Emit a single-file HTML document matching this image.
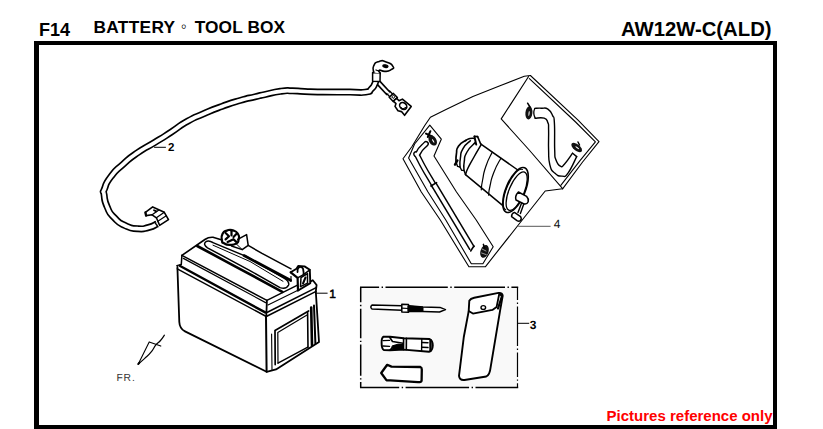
<!DOCTYPE html>
<html><head><meta charset="utf-8"><title>F14 BATTERY TOOL BOX</title>
<style>
html,body{margin:0;padding:0;background:#fff;}
body{width:823px;height:429px;position:relative;overflow:hidden;font-family:"Liberation Sans",sans-serif;color:#000;}
.t{position:absolute;white-space:nowrap;font-weight:bold;line-height:1;}
#frame{position:absolute;left:34px;top:41px;width:734px;height:380px;border-style:solid;border-color:#000;border-width:4px 4px 6px 5px;}
#f14{left:39px;top:20.6px;font-size:18px;}
#ttl{left:93.6px;top:18.7px;font-size:17.3px;letter-spacing:0.3px;}
#ttl i{display:inline-block;width:19.3px;text-align:center;font-style:normal;font-size:17px;letter-spacing:0;position:relative;left:-1.2px;top:-0.5px}
#ttl b{letter-spacing:0.12px}
#mdl{left:621px;top:18.6px;font-size:20.3px;}
#ref{left:606.6px;top:408.2px;font-size:15px;color:#f00;}
svg{position:absolute;left:0;top:0;font-family:"Liberation Sans",sans-serif;}
svg text{text-rendering:geometricPrecision;}
</style></head><body>
<div id="frame"></div>
<div class="t" id="f14">F14</div>
<div class="t" id="ttl">BATTERY<i>&#9702;</i><b>TOOL BOX</b></div>
<div class="t" id="mdl">AW12W-C(ALD)</div>
<div class="t" id="ref">Pictures reference only</div>
<svg width="823" height="429" viewBox="0 0 823 429" fill="none" stroke="#000" stroke-width="1.2" stroke-linecap="round" stroke-linejoin="round">
<path d="M378.3 82.5 L388.6 93.6" stroke-width="5.6" stroke-linecap="butt"/>
<path d="M378.3 82.5 L388.6 93.6" stroke="#fff" stroke-width="2.4" stroke-linecap="butt"/>
<path d="M386.6 93.6 L391.0 98.0" stroke-width="1.4"/>
<path d="M389.6 91.0 L394.0 95.6" stroke-width="1.4"/>
<path d="M389.2 97.2 L393.4 93.4 L397.4 97.6 L393.2 101.6 Z" stroke-width="1.5" fill="#fff"/>
<path d="M392.0 96.6 L393.6 95.2 L395.0 96.8 L393.4 98.2 Z" stroke-width="1.0"/>
<path d="M393.4 101.2 L396.6 98.2 L399.0 100.8 L402.4 99.1 L411.2 106.4 L404.6 115.3 L401.5 111.6 L398.0 110.8 L395.0 106.4 L396.0 103.6 Z" stroke-width="1.6" fill="#fff"/>
<ellipse cx="403.2" cy="106" rx="3.9" ry="3.1" stroke-width="1.6" transform="rotate(40 403.2 106)"/>
<path d="M401.0 107.6 C401.7 108.0 401.5 108.9 403.0 108.8 C404.5 108.7 404.7 107.9 405.6 107.4" stroke-width="1.1"/>
<path d="M157.0 223.9 C154.2 225.1 155.0 225.9 148.5 227.5 C142.0 229.1 145.2 229.3 137.5 228.7 C129.8 228.1 133.1 229.3 125.4 225.7 C117.7 222.1 120.5 224.1 114.4 217.8 C108.3 211.5 110.6 214.6 107.2 206.9 C103.8 199.2 105.0 200.8 104.1 194.7 C103.2 188.6 102.3 194.7 104.6 188.6 C106.9 182.5 104.9 184.6 111.0 176.5 C117.1 168.4 114.0 172.3 123.0 164.3 C132.0 156.3 127.4 159.7 138.1 152.4 C148.8 145.1 144.0 149.0 155.0 142.3 C166.0 135.6 160.1 139.3 171.0 132.2 C181.9 125.1 176.9 127.2 187.8 121.1 C198.7 115.0 192.3 118.7 203.6 113.8 C214.9 108.9 209.7 110.9 221.8 106.5 C233.9 102.1 228.9 103.7 240.0 100.5 C251.1 97.3 246.8 98.8 255.0 96.8 C263.2 94.8 256.1 96.4 264.6 94.6 C273.1 92.8 271.1 92.6 280.4 91.3 C289.7 90.0 284.4 90.7 292.5 90.8 C300.6 90.9 294.6 91.1 304.7 91.5 C314.8 91.9 307.8 91.8 322.9 92.0 C338.0 92.2 335.8 92.1 350.0 92.1 C364.2 92.1 358.4 93.2 365.5 92.1 C372.6 91.0 368.3 91.5 371.4 88.8 C374.5 86.1 373.3 86.8 374.8 83.9 C376.3 81.0 375.6 81.3 376.0 80.0" stroke-width="7.0" stroke-linecap="butt"/>
<path d="M157.0 223.9 C154.2 225.1 155.0 225.9 148.5 227.5 C142.0 229.1 145.2 229.3 137.5 228.7 C129.8 228.1 133.1 229.3 125.4 225.7 C117.7 222.1 120.5 224.1 114.4 217.8 C108.3 211.5 110.6 214.6 107.2 206.9 C103.8 199.2 105.0 200.8 104.1 194.7 C103.2 188.6 102.3 194.7 104.6 188.6 C106.9 182.5 104.9 184.6 111.0 176.5 C117.1 168.4 114.0 172.3 123.0 164.3 C132.0 156.3 127.4 159.7 138.1 152.4 C148.8 145.1 144.0 149.0 155.0 142.3 C166.0 135.6 160.1 139.3 171.0 132.2 C181.9 125.1 176.9 127.2 187.8 121.1 C198.7 115.0 192.3 118.7 203.6 113.8 C214.9 108.9 209.7 110.9 221.8 106.5 C233.9 102.1 228.9 103.7 240.0 100.5 C251.1 97.3 246.8 98.8 255.0 96.8 C263.2 94.8 256.1 96.4 264.6 94.6 C273.1 92.8 271.1 92.6 280.4 91.3 C289.7 90.0 284.4 90.7 292.5 90.8 C300.6 90.9 294.6 91.1 304.7 91.5 C314.8 91.9 307.8 91.8 322.9 92.0 C338.0 92.2 335.8 92.1 350.0 92.1 C364.2 92.1 358.4 93.2 365.5 92.1 C372.6 91.0 368.3 91.5 371.4 88.8 C374.5 86.1 373.3 86.8 374.8 83.9 C376.3 81.0 375.6 81.3 376.0 80.0" stroke="#fff" stroke-width="3.7" stroke-linecap="butt"/>
<path d="M372.6 72.6 L380.2 73.0 L380.0 81.6 L372.6 81.3 Z" stroke-width="1.5" fill="#fff"/>
<path d="M373.8 72.4 C373.7 70.3 371.8 69.7 373.6 66.0 C375.4 62.3 375.0 62.8 379.2 61.4 C383.4 60.0 381.5 60.3 386.1 61.9 C390.7 63.5 391.3 63.7 392.9 66.3 C394.5 68.9 393.6 68.0 391.0 69.7 C388.4 71.4 389.0 71.2 385.1 71.4 C381.2 71.6 381.0 69.5 379.4 70.2 C377.8 70.9 379.9 72.4 380.2 73.5" stroke-width="1.6" fill="#fff"/>
<ellipse cx="385.4" cy="66.2" rx="2.6" ry="1.3" fill="#000" transform="rotate(12 385.4 66.2)"/>
<path d="M376.0 70.0 L378.6 71.0" stroke-width="1.3"/>
<path d="M145.4 212.3 L152.7 206.9 L164.3 212.3 L168.5 219.6 L159.6 225.3 L156.4 217.8 L152.1 214.8 L146.0 215.6 Z" stroke-width="1.6" fill="#fff"/>
<path d="M152.1 214.8 L158.5 210.2" stroke-width="1.3"/>
<path d="M156.4 217.8 L164.3 212.3" stroke-width="1.3"/>
<path d="M157.8 221.2 L166.3 215.8" stroke-width="1.2"/>
<path d="M145.4 212.3 L146.0 215.6" stroke-width="2.2"/>
<path d="M154.0 210.2 L156.3 211.4" stroke-width="1.8"/>
<path d="M154.6 222.2 L158.0 226.8" stroke-width="1.4"/>
<path d="M154.5 147.3 L165.5 147.3" stroke-width="1"/>
<text transform="translate(168 151) scale(0.25)" font-size="46.0" font-weight="bold" fill="#000" stroke="none">2</text>
<path d="M177.4 267 L179.3 322 Q179.6 328.6 185 331.4 L266.6 371.8 L276 369.4 L319 342 L315.8 291.4" stroke-width="1.8"/>
<path d="M266.0 316.5 L266.6 371.8" stroke-width="2.0"/>
<path d="M181.9 255.4 L204.9 239.5 Q208.5 237 213 237.3 L222 240" stroke-width="1.6"/>
<path d="M181.9 255.4 L266.9 300.4 L297.0 285.3" stroke-width="1.5"/>
<path d="M183.4 258.4 L265.6 302.6" stroke-width="1.2"/>
<path d="M181.9 255.4 L181.3 264.4" stroke-width="1.5"/>
<path d="M266.9 300.4 L266.3 316.5" stroke-width="1.8"/>
<path d="M176.9 265.6 L181.3 264.4" stroke-width="1.5"/>
<path d="M179.7 265.8 L265.2 312.4" stroke-width="2.4"/>
<path d="M177.3 268.8 L266.3 316.5 L315.6 291.6" stroke-width="1.5"/>
<path d="M267.4 312.2 L316.2 287.6" stroke-width="1.6"/>
<path d="M268.0 305.0 L300.0 289.3" stroke-width="1.1"/>
<path d="M310.6 281.6 L312.8 280.3 L316.6 285.0 L315.8 291.4" stroke-width="1.8"/>
<path d="M248.2 245.4 L262.0 253.4 L291.0 268.8" stroke-width="1.5"/>
<path d="M213 242.6 L246.2 256.4 L284 278.2 Q289.6 281.6 288.6 285 Q286.5 289.6 280 287.6 L248.6 269.8 L207.5 247.8 Q203 244.6 205.5 242 Q208.5 239.6 213 242.6" stroke-width="1.5"/>
<path d="M244.0 255.6 L290.5 280.3" stroke-width="2.8"/>
<path d="M197.2 246.0 L236.0 266.8 L282.3 291.8" stroke-width="2.6"/>
<path d="M213.0 245.2 L250.0 261.5 L283.0 281.3" stroke-width="1.0"/>
<path d="M222.0 240.5 C221.5 237.4 220.8 237.3 222.5 234.0 C224.2 230.7 223.5 231.8 227.0 230.6 C230.5 229.4 229.3 229.3 233.0 230.4 C236.7 231.5 236.1 231.0 238.0 234.0 C239.9 237.0 239.3 236.3 238.6 239.5 C237.9 242.7 239.0 241.8 236.0 243.6 C233.0 245.4 233.5 244.9 229.5 244.8 C225.5 244.7 226.5 244.6 224.0 243.2 C221.5 241.8 222.5 243.6 222.0 240.5 Z" stroke-width="2.2" fill="#fff"/>
<path d="M225.6 233.0 L229.0 236.2 L225.6 239.4" stroke-width="2.2"/>
<path d="M231.5 231.2 L231.5 235.5" stroke-width="2.2"/>
<path d="M236.8 233.6 L233.5 237.0" stroke-width="2.2"/>
<path d="M227.6 242.0 L233.5 239.2 L236.0 241.6" stroke-width="2.2"/>
<path d="M237.8 239.4 L246.6 234.6 L248.2 245.4 L242.2 249.6 L231.5 246.0" stroke-width="1.5"/>
<path d="M236.0 243.6 L242.2 249.6" stroke-width="1.0"/>
<path d="M290.7 272.3 L297.6 277.8 L298.0 290.6" stroke-width="2.2"/>
<path d="M290.7 272.3 L296.5 268.8 L298.2 265.9 L304.5 266.4 L309.8 269.8 L310.3 283.1 L299.0 290.0" stroke-width="1.9"/>
<path d="M297.6 277.8 L303.5 274.6 L309.8 269.8" stroke-width="1.5"/>
<path d="M297.5 272.0 C297.8 270.6 297.0 269.3 298.5 267.8 C300.0 266.3 300.4 266.5 302.0 267.6 C303.6 268.7 302.9 268.7 303.4 271.0 C303.9 273.3 303.5 273.4 303.5 274.6" stroke-width="1.8"/>
<path d="M300.5 286.6 L301.0 277.5 L307.5 273.6 L307.5 283.2 L300.5 286.6" stroke-width="1.5"/>
<path d="M303.0 283.5 L305.5 277.5" stroke-width="2.0"/>
<path d="M291.0 276.5 L291.0 281.5" stroke-width="1.2"/>
<path d="M275.2 364.6 L275.0 330.6 L308.6 310.9" stroke-width="1.7"/>
<path d="M278.0 363.0 L277.8 332.6 L306.6 315.2" stroke-width="1.2"/>
<path d="M278.0 363.2 L307.8 347.2" stroke-width="1.4"/>
<path d="M307.6 312.6 L308.0 347.2" stroke-width="1.6"/>
<path d="M311.2 307.6 L312.0 345.4" stroke-width="2.6"/>
<path d="M314.0 305.6 L315.4 343.6" stroke-width="2.0"/>
<path d="M271.6 334.0 L272.0 369.6" stroke-width="1.1"/>
<path d="M316.0 293.2 L327.2 293.2" stroke-width="1"/>
<text transform="translate(329.2 297.8) scale(0.25)" font-size="48" font-weight="normal" fill="#000" stroke="#000" stroke-width="2.0">1</text>
<rect x="360.7" y="287.3" width="156.8" height="100.1" fill="#f9f9f9" stroke="none"/>
<path d="M360.0 287.3 L379.1 287.3 M381.6 287.3 L383.0 287.3 M385.5 287.3 L447.8 287.3 M450.3 287.3 L451.7 287.3 M454.2 287.3 L505.0 287.3 M507.5 287.3 L508.9 287.3 M511.4 287.3 L518.2 287.3" stroke-width="1.5" stroke-linecap="butt"/>
<path d="M360.0 387.4 L399.2 387.4 M401.7 387.4 L403.1 387.4 M405.6 387.4 L469.1 387.4 M471.6 387.4 L473.0 387.4 M475.5 387.4 L518.2 387.4" stroke-width="1.5" stroke-linecap="butt"/>
<path d="M360.7 287.3 L360.7 302.3 M360.7 304.8 L360.7 306.2 M360.7 308.7 L360.7 338.2 M360.7 340.7 L360.7 342.1 M360.7 344.6 L360.7 375.7 M360.7 378.2 L360.7 379.6 M360.7 382.1 L360.7 387.4" stroke-width="1.5" stroke-linecap="butt"/>
<path d="M517.5 287.3 L517.5 300.0 M517.5 302.5 L517.5 303.9 M517.5 306.4 L517.5 346.0 M517.5 348.5 L517.5 349.9 M517.5 352.4 L517.5 376.9 M517.5 379.4 L517.5 380.8 M517.5 383.3 L517.5 387.4" stroke-width="1.2" stroke-linecap="butt"/>
<path d="M372 305.1 L401.8 305.8 L401.8 310.2 L372 309 Q369.6 307 372 305.1 Z" stroke-width="1.5" fill="#fff"/>
<path d="M401.8 304.3 L408.5 304.6 L408.5 312.2 L401.8 311.9 Z" stroke-width="1.5" fill="#fff"/>
<path d="M401.8 308.2 L408.5 308.5" stroke-width="1.2"/>
<path d="M408.5 305.8 L423 307 L440 307.4 L445.5 309.6 L439.5 312 L423 311.6 L408.5 311.4 Z" stroke-width="1.5" fill="#fff"/>
<path d="M408.5 306 L423 307.2 L423 311.4 L408.5 311.2 Z" stroke-width="1" fill="#000"/>
<path d="M383.6 336.6 Q381.3 338 381.6 343 Q381.6 348.6 383.8 350 L390 350.2 L403.5 349.6 L429 351.8 Q432.6 351 432.8 345.5 Q432.8 340.5 429.6 339 L403.6 338.2 L390 336.8 Z" stroke-width="1.9" fill="#fff"/>
<path d="M403.6 338.2 L403.5 349.6" stroke-width="1.6"/>
<path d="M406.4 338.4 L406.3 349.8" stroke-width="1.6"/>
<path d="M421.8 339.0 L421.6 351.2" stroke-width="1.4"/>
<path d="M383.0 340.6 L389.5 340.4" stroke-width="1.4"/>
<path d="M383.0 346.0 L389.5 346.4" stroke-width="1.4"/>
<path d="M389.5 337.0 L392.5 341.5 L403.0 343.2" stroke-width="1.6"/>
<path d="M390.0 350.0 L394.0 346.0 L403.0 344.8" stroke-width="1.6"/>
<path d="M392.5 345.8 L398 344.2 L403 344.6 L403 349.4 L392 349.8 Z" stroke-width="1" fill="#000"/>
<path d="M422.0 342.6 L428.0 342.8" stroke-width="1.5"/>
<path d="M422.0 347.2 L428.0 347.6" stroke-width="1.5"/>
<path d="M430.5 340.5 L430.5 350.5" stroke-width="2.4"/>
<path d="M381.2 373 L387.2 364.8 L391.5 366.6 L420.4 367 Q421.8 367.4 421.8 369.4 L421.6 380.6 Q421.4 382.2 418 382.2 L390.2 380.4 L386.6 380.4 Z" stroke-width="2.3" fill="#fff"/>
<path d="M469.3 300.8 Q470.5 298.6 474.2 297.8 L498.5 292.9 Q502.6 292.6 502.7 295.9 L500.3 309.3 L490.6 367.4 Q489.8 375 486.3 376.5 L464.5 380 Q459.6 380.6 459 375.9 L463.8 337 L468.7 311.1 Z" stroke-width="1.9" fill="#fff"/>
<path d="M468.7 311.1 L472.9 313.6 L492.4 309.9 L496.6 306.9 L499.4 293.2" stroke-width="1.8"/>
<path d="M499.6 293.6 L502.0 296.0 L498.0 308.5" stroke-width="2.2"/>
<ellipse cx="483.3" cy="307.5" rx="2.3" ry="1.9" stroke-width="1.4"/>
<path d="M517.5 323.3 L528.8 323.3" stroke-width="1"/>
<text transform="translate(529.8 328.6) scale(0.25)" font-size="48" font-weight="bold" fill="#000" stroke="none">3</text>
<path d="M530.4 75.5 L524.3 76.3 L500.0 85.8 L472.9 96.4 L446.0 109.6 L430.4 117.3 L424.9 125.2 L412.0 146.5 L403.0 158.8 L421.3 192.0 L440.3 220.0 L468.9 266.8 L485.3 266.8 L517.5 226.0 L545.2 191.0 L562.6 188.8" stroke-width="1.1"/>
<path d="M528.6 76.5 L501.2 118.9 L529.2 150.0 L562.6 188.6" stroke-width="1.1"/>
<path d="M530.4 75.5 L577.8 119.8 L599.0 141.6 L582.6 162.0 L562.6 188.8" stroke-width="1.1"/>
<path d="M529.4 78.6 L575.6 122.0 L595.4 141.8 L580.2 160.4 L560.8 185.4" stroke-width="1.1"/>
<path d="M429.8 125.2 L441.3 139.2 L434.0 156.0 L456.5 192.0 L476.2 220.0 L493.2 246.7 L482.9 263.7 L471.3 263.7 L445.8 220.0 L428.0 192.0 L408.6 158.0 L414.6 144.0 Z" stroke-width="1.1"/>
<path d="M426.0 143.8 C423.4 146.9 420.5 147.8 418.3 153.0 C416.1 158.2 414.0 148.5 419.4 159.5 C424.8 170.5 429.4 177.2 434.4 186.0" stroke-width="5.8" stroke-linecap="round"/>
<path d="M426.0 143.8 C423.4 146.9 420.5 147.8 418.3 153.0 C416.1 158.2 414.0 148.5 419.4 159.5 C424.8 170.5 429.4 177.2 434.4 186.0" stroke="#fff" stroke-width="3.0" stroke-linecap="round"/>
<path d="M433.7 184.3 L472.2 248.5" stroke-width="6.6" stroke-linecap="butt"/>
<path d="M433.7 184.3 L472.2 248.5" stroke="#fff" stroke-width="3.6" stroke-linecap="butt"/>
<path d="M470.7 251.0 L473.9 246.0" stroke-width="1.5"/>
<path d="M430.9 186.0 L436.6 182.6" stroke-width="1.5"/>
<path d="M534.9 108.4 C536.7 108.3 538.0 108.0 541.5 108.2 C545.0 108.4 544.9 107.2 547.9 109.2 C550.9 111.2 550.9 111.9 552.6 115.6 C554.3 119.3 553.8 113.8 554.4 123.0 C555.0 132.2 554.3 140.2 554.7 150.0 C555.1 159.8 554.4 155.4 555.9 159.7 C557.4 164.0 558.1 165.1 560.4 166.2 C562.7 167.3 561.3 167.5 564.6 164.0 C567.9 160.5 570.5 156.1 572.6 153.2" stroke-width="1.4"/>
<path d="M535.2 118.2 C537.6 118.2 540.8 117.0 544.2 118.2 C547.6 119.4 546.6 119.5 547.8 122.6 C549.0 125.7 548.4 122.7 548.6 130.0 C548.8 137.3 548.3 140.8 548.6 150.0 C548.9 159.2 548.2 158.4 549.8 164.6 C551.4 170.8 551.4 170.0 554.7 173.1 C558.0 176.2 558.5 176.1 562.0 176.1 C565.5 176.1 564.1 178.3 568.0 173.1 C571.9 167.9 574.4 161.0 576.7 156.6" stroke-width="1.4"/>
<path d="M534.9 108.4 C534.5 109.9 533.7 109.7 533.8 113.0 C533.9 116.3 534.7 116.5 535.2 118.2" stroke-width="1.3"/>
<path d="M572.6 153.2 L576.7 156.6" stroke-width="1.4"/>
<path d="M426.0 133.6 L432.2 136.4" stroke-width="2.0"/>
<path d="M430.4 131.2 L427.8 137.0" stroke-width="2.0"/>
<g transform="translate(432.7 140.5) rotate(-32)"><ellipse cx="0" cy="0" rx="3.7" ry="5.5" fill="#111" stroke="none"/><ellipse cx="0.2" cy="0.6" rx="0.55" ry="2.09" fill="#fff" stroke="none"/></g>
<g transform="translate(484.5 251.4) rotate(18)"><ellipse cx="0" cy="0" rx="4.0" ry="6.6" fill="#111" stroke="none"/></g>
<path d="M483.4 244.4 L484.6 248.0" stroke-width="1.6"/>
<path d="M482 249 L486 251 M481.6 253 L486.2 254.6" stroke="#bbb" stroke-width="0.8"/>
<g transform="translate(528.9 112.9) rotate(6)"><ellipse cx="0" cy="0" rx="3.5" ry="6.6" fill="#111" stroke="none"/><ellipse cx="0.2" cy="0.6" rx="0.55" ry="2.508" fill="#fff" stroke="none"/></g>
<path d="M527.6 103.2 L530.0 107.0" stroke-width="1.5"/>
<g transform="translate(576.7 147.5) rotate(-52)"><ellipse cx="0" cy="0" rx="3.3" ry="6.3" fill="#111" stroke="none"/><ellipse cx="0.2" cy="0.6" rx="0.55" ry="2.394" fill="#fff" stroke="none"/></g>
<path d="M578.0 142.0 L579.5 145.0" stroke-width="1.5"/>
<path d="M481.3 144.4 L517.8 170.0" stroke-width="1.5"/>
<path d="M465.5 174.6 L504.4 206.8" stroke-width="1.5"/>
<path d="M481.3 144.4 C478.9 148.6 478.4 149.1 474.0 157.0 C469.6 164.9 470.8 162.1 468.0 168.0 C465.2 173.9 466.3 172.4 465.5 174.6" stroke-width="1.5"/>
<path d="M492.2 152.3 C490.1 156.9 489.2 156.8 486.0 166.0 C482.8 175.2 484.2 172.1 482.6 180.0 C481.0 187.9 481.7 186.5 481.3 189.8" stroke-width="1.2"/>
<path d="M500.8 158.4 C498.5 162.9 497.6 162.8 494.0 172.0 C490.4 181.2 491.8 178.3 490.0 186.0 C488.2 193.7 489.1 192.1 488.6 195.2" stroke-width="1.2"/>
<path d="M466.1 140.2 C463.6 142.1 461.8 141.4 458.6 146.0 C455.4 150.6 457.3 148.7 456.4 154.0 C455.5 159.3 456.1 159.3 456.0 162.0" stroke-width="1.7"/>
<path d="M470.4 140.8 C467.9 143.4 466.3 142.9 463.0 148.6 C459.7 154.3 461.4 151.9 460.4 158.0 C459.4 164.1 460.1 164.0 460.0 167.0" stroke-width="1.5"/>
<path d="M475.2 142.6 C472.5 145.7 470.7 145.5 467.0 152.0 C463.3 158.5 465.2 155.9 464.2 162.0 C463.2 168.1 464.1 167.6 464.0 170.4" stroke-width="1.5"/>
<path d="M466.1 140.2 C467.4 139.7 467.2 139.2 470.0 138.6 C472.8 138.0 472.9 138.5 474.4 138.4" stroke-width="1.5"/>
<path d="M456.0 162.0 L457.6 166.4 L460.0 167.0 L461.6 170.2 L464.0 170.4 L465.5 174.6" stroke-width="1.4"/>
<path d="M474.4 136.4 L476.2 144.6" stroke-width="2.0"/>
<path d="M477.6 136.6 L480.6 143.8" stroke-width="1.6"/>
<path d="M474.4 136.4 L477.6 136.6" stroke-width="1.6"/>
<path d="M457.4 160.5 L455.0 164.6" stroke-width="2.4"/>
<g transform="rotate(22.5 515.5 190)"><ellipse cx="515.5" cy="190" rx="9.6" ry="24" stroke-width="1.6" fill="#fff"/><ellipse cx="517" cy="190.6" rx="7.6" ry="20.6" stroke-width="1.3"/><path d="M514 168.4 A7.4 21.8 0 0 0 514 212" stroke-width="1.2"/></g>
<path d="M518.4 192 L526.6 196.4 Q528.8 198.6 528.2 201.8 Q527 204.6 524 204 L516 200 Q514.6 196 518.4 192 Z" stroke-width="1.5" fill="#fff"/>
<path d="M521.6 203.0 L518.0 212.6" stroke-width="1.4"/>
<path d="M523.8 204.0 L520.4 213.6" stroke-width="1.4"/>
<path d="M514.4 212.4 L520.6 216.6 Q522 219 520.4 220.8 Q518.6 221.6 517 220.6 L511.6 216.6 Q511.4 213.6 514.4 212.4 Z" stroke-width="1.5" fill="#fff"/>
<path d="M518.6 226.3 L550.2 226.3" stroke-width="0.9" stroke="#444"/>
<text transform="translate(553.8 228.2) scale(0.25)" font-size="48" font-weight="normal" fill="#111" stroke="none">4</text>
<path d="M138.3 364.0 L149.2 341.9 L160.8 346.1" stroke-width="1.1"/>
<path d="M164.4 335.2 C163.4 336.6 162.8 337.9 160.5 340.5 C158.2 343.1 158.4 341.8 155.9 344.9 C153.4 348.0 154.0 348.5 151.0 352.2 C148.0 355.9 147.9 355.5 144.5 358.6 C141.1 361.7 140.0 362.6 138.3 364.0" stroke-width="1.2"/>
<path d="M138.3 364.0 L139.2 362.8" stroke-width="2.0"/>
<text transform="translate(116.4 380.5) scale(0.25)" font-size="41.2" font-weight="normal" fill="#333" stroke="none" letter-spacing="3.6">FR.</text>
</svg>
</body></html>
